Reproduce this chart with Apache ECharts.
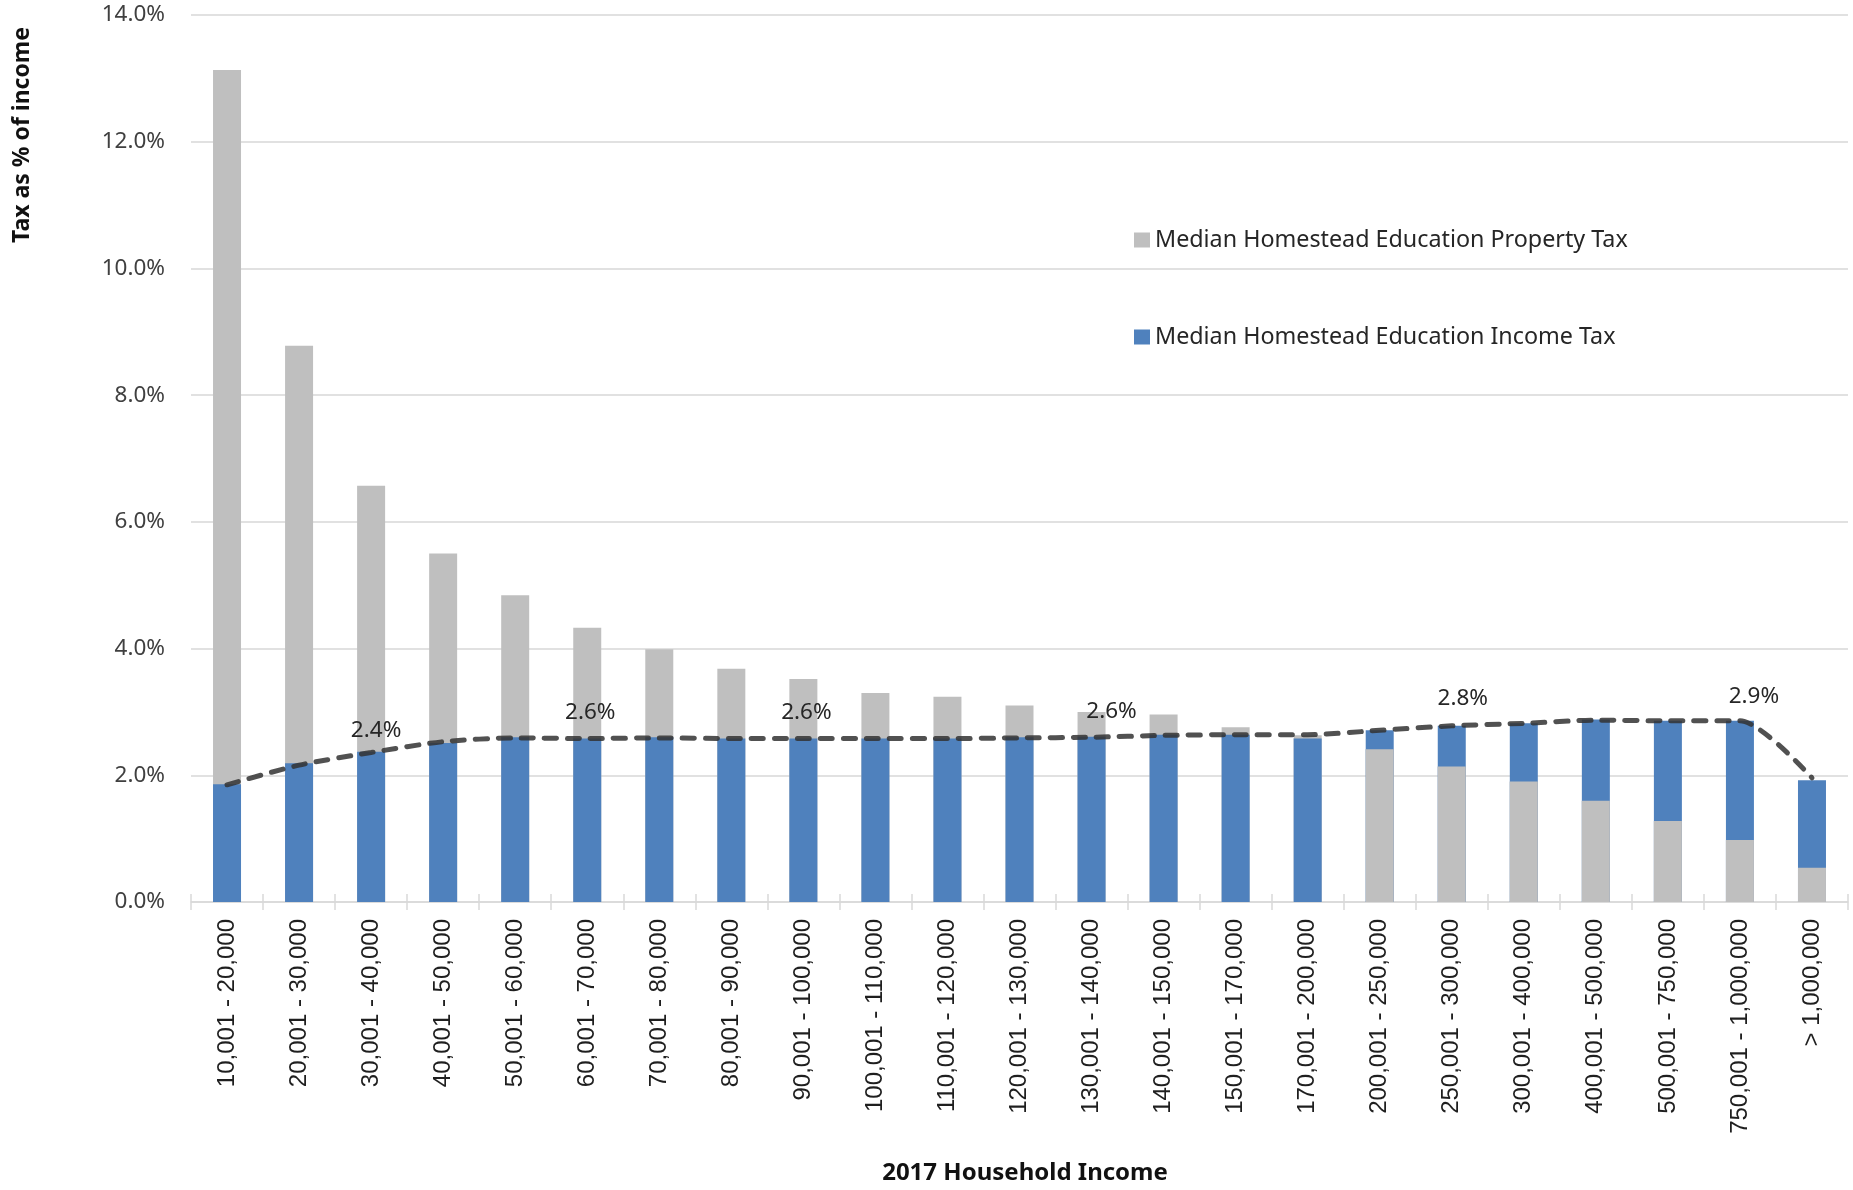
<!DOCTYPE html>
<html>
<head>
<meta charset="utf-8">
<title>Tax as % of income by 2017 household income</title>
<script src="https://cdn.jsdelivr.net/npm/echarts@6/dist/echarts.min.js"></script>
<style>
  html, body { margin: 0; padding: 0; background: #ffffff; }
  #chart { width: 1853px; height: 1190px; }
</style>
</head>
<body>
<div id="chart"></div>
<script>
// Household income brackets (2017)
const categories = [
  '10,001 - 20,000', '20,001 - 30,000', '30,001 - 40,000', '40,001 - 50,000',
  '50,001 - 60,000', '60,001 - 70,000', '70,001 - 80,000', '80,001 - 90,000',
  '90,001 - 100,000', '100,001 - 110,000', '110,001 - 120,000', '120,001 - 130,000',
  '130,001 - 140,000', '140,001 - 150,000', '150,001 - 170,000', '170,001 - 200,000',
  '200,001 - 250,000', '250,001 - 300,000', '300,001 - 400,000', '400,001 - 500,000',
  '500,001 - 750,000', '750,001 - 1,000,000', '> 1,000,000'
];

// Median homestead education property tax, % of income
const propertyTax = [
  13.13, 8.78, 6.57, 5.50, 4.84, 4.33, 3.99, 3.68, 3.52, 3.30, 3.24, 3.10,
  3.00, 2.96, 2.76, 2.63, 2.41, 2.14, 1.90, 1.60, 1.28, 0.98, 0.54
];

// Median homestead education income tax, % of income
const incomeTax = [
  1.86, 2.19, 2.37, 2.51, 2.60, 2.58, 2.60, 2.58, 2.58, 2.58, 2.58, 2.60,
  2.61, 2.64, 2.64, 2.58, 2.71, 2.78, 2.82, 2.88, 2.86, 2.86, 1.92
];

// Trend line, % of income
const trendRate = [
  1.85, 2.16, 2.36, 2.53, 2.59, 2.58, 2.59, 2.58, 2.58, 2.58, 2.58, 2.59,
  2.60, 2.63, 2.64, 2.64, 2.71, 2.78, 2.82, 2.87, 2.86, 2.86, 1.96
];

// Points on the trend line that carry a value label
const labeledPoints = [2, 5, 8, 12, 17, 21];

const yTicks = { min: 0, max: 14, interval: 2 };

const PROPERTY_NAME = 'Median Homestead Education Property Tax';
const INCOME_NAME = 'Median Homestead Education Income Tax';
const GRAY = '#BFBFBF';
const BLUE = '#4F81BD';

// label nudges (px) for the trend-line value labels
const labelNudge = { 2: [5, 4], 5: [3, 0], 8: [3, 0], 12: [20, 0], 17: [11, -2], 21: [14, 1] };

// The shorter of the two bars is drawn in front of the taller one.
const propertyFront = propertyTax.map((v, i) => (v < incomeTax[i] ? v : '-'));

const trendData = trendRate.map((v, i) => {
  if (labeledPoints.indexOf(i) === -1) return v;
  return {
    value: v,
    label: {
      show: true,
      position: 'top',
      distance: 13,
      offset: labelNudge[i] || [0, 0],
      formatter: p => p.value.toFixed(1) + '%',
      fontFamily: 'Noto Sans',
      fontSize: 22.5,
      color: '#262626'
    }
  };
});

const chart = echarts.init(document.getElementById('chart'), null, { renderer: 'canvas' });

chart.setOption({
  animation: false,
  backgroundColor: '#ffffff',
  grid: { left: 191, right: 5, top: 15, bottom: 282, containLabel: false },
  legend: {
    orient: 'vertical',
    left: 1134,
    top: 228,
    padding: 0,
    itemWidth: 16,
    itemHeight: 15,
    itemGap: 73,
    icon: 'rect',
    selectedMode: false,
    data: [PROPERTY_NAME, INCOME_NAME],
    textStyle: { fontFamily: 'Noto Sans', fontSize: 23.3, lineHeight: 24, color: '#262626' }
  },
  xAxis: [
    {
      type: 'category',
      data: categories,
      boundaryGap: true,
      axisLine: { show: true, lineStyle: { color: '#D9D9D9', width: 1.5 } },
      axisTick: { show: true, interval: 0, length: 8, lineStyle: { color: '#D9D9D9', width: 1.5 } },
      axisLabel: {
        interval: 0,
        rotate: 90,
        margin: 17,
        fontFamily: 'Liberation Sans',
        fontSize: 24,
        color: '#1f1f1f'
      },
      name: '2017 Household Income',
      nameLocation: 'middle',
      nameGap: 259,
      nameTextStyle: {
        fontFamily: 'Noto Sans',
        fontWeight: 'bold',
        fontSize: 24,
        color: '#111111',
        padding: [0, 0, 0, 11]
      }
    },
    {
      // inner half of the cross tick marks
      type: 'category',
      data: categories,
      position: 'bottom',
      axisLine: { show: false },
      axisTick: { show: true, inside: true, interval: 0, length: 8, lineStyle: { color: '#D9D9D9', width: 1.5 } },
      axisLabel: { show: false },
      splitLine: { show: false }
    }
  ],
  yAxis: {
    type: 'value',
    min: yTicks.min,
    max: yTicks.max,
    interval: yTicks.interval,
    axisLine: { show: false },
    axisTick: { show: false },
    splitLine: { show: true, lineStyle: { color: '#E1E1E1', width: 2 } },
    axisLabel: {
      margin: 26,
      fontFamily: 'Noto Sans',
      fontSize: 22.5,
      color: '#404040',
      formatter: v => v.toFixed(1) + '%'
    }
  },
  graphic: [
    {
      type: 'text',
      x: 22,
      y: 135,
      rotation: Math.PI / 2,
      style: {
        text: 'Tax as % of income',
        fontFamily: 'Noto Sans',
        fontWeight: 'bold',
        fontSize: 23,
        fill: '#111111',
        align: 'center',
        verticalAlign: 'middle'
      }
    }
  ],
  series: [
    {
      name: PROPERTY_NAME,
      type: 'bar',
      barWidth: 28,
      barGap: '-100%',
      itemStyle: { color: GRAY },
      data: propertyTax
    },
    {
      name: INCOME_NAME,
      type: 'bar',
      barWidth: 28,
      barGap: '-100%',
      itemStyle: { color: BLUE },
      data: incomeTax
    },
    {
      name: PROPERTY_NAME,
      type: 'bar',
      barWidth: 28,
      barGap: '-100%',
      itemStyle: { color: GRAY },
      data: propertyFront
    },
    {
      name: 'Trend',
      type: 'line',
      data: trendData,
      smooth: 0.25,
      symbol: 'circle',
      symbolSize: 2,
      showSymbol: true,
      itemStyle: { color: 'rgba(0,0,0,0)', borderWidth: 0 },
      lineStyle: { color: 'rgba(50,50,50,0.85)', width: 5, type: [12, 11], cap: 'round' },
      z: 5
    }
  ]
});
</script>
</body>
</html>
